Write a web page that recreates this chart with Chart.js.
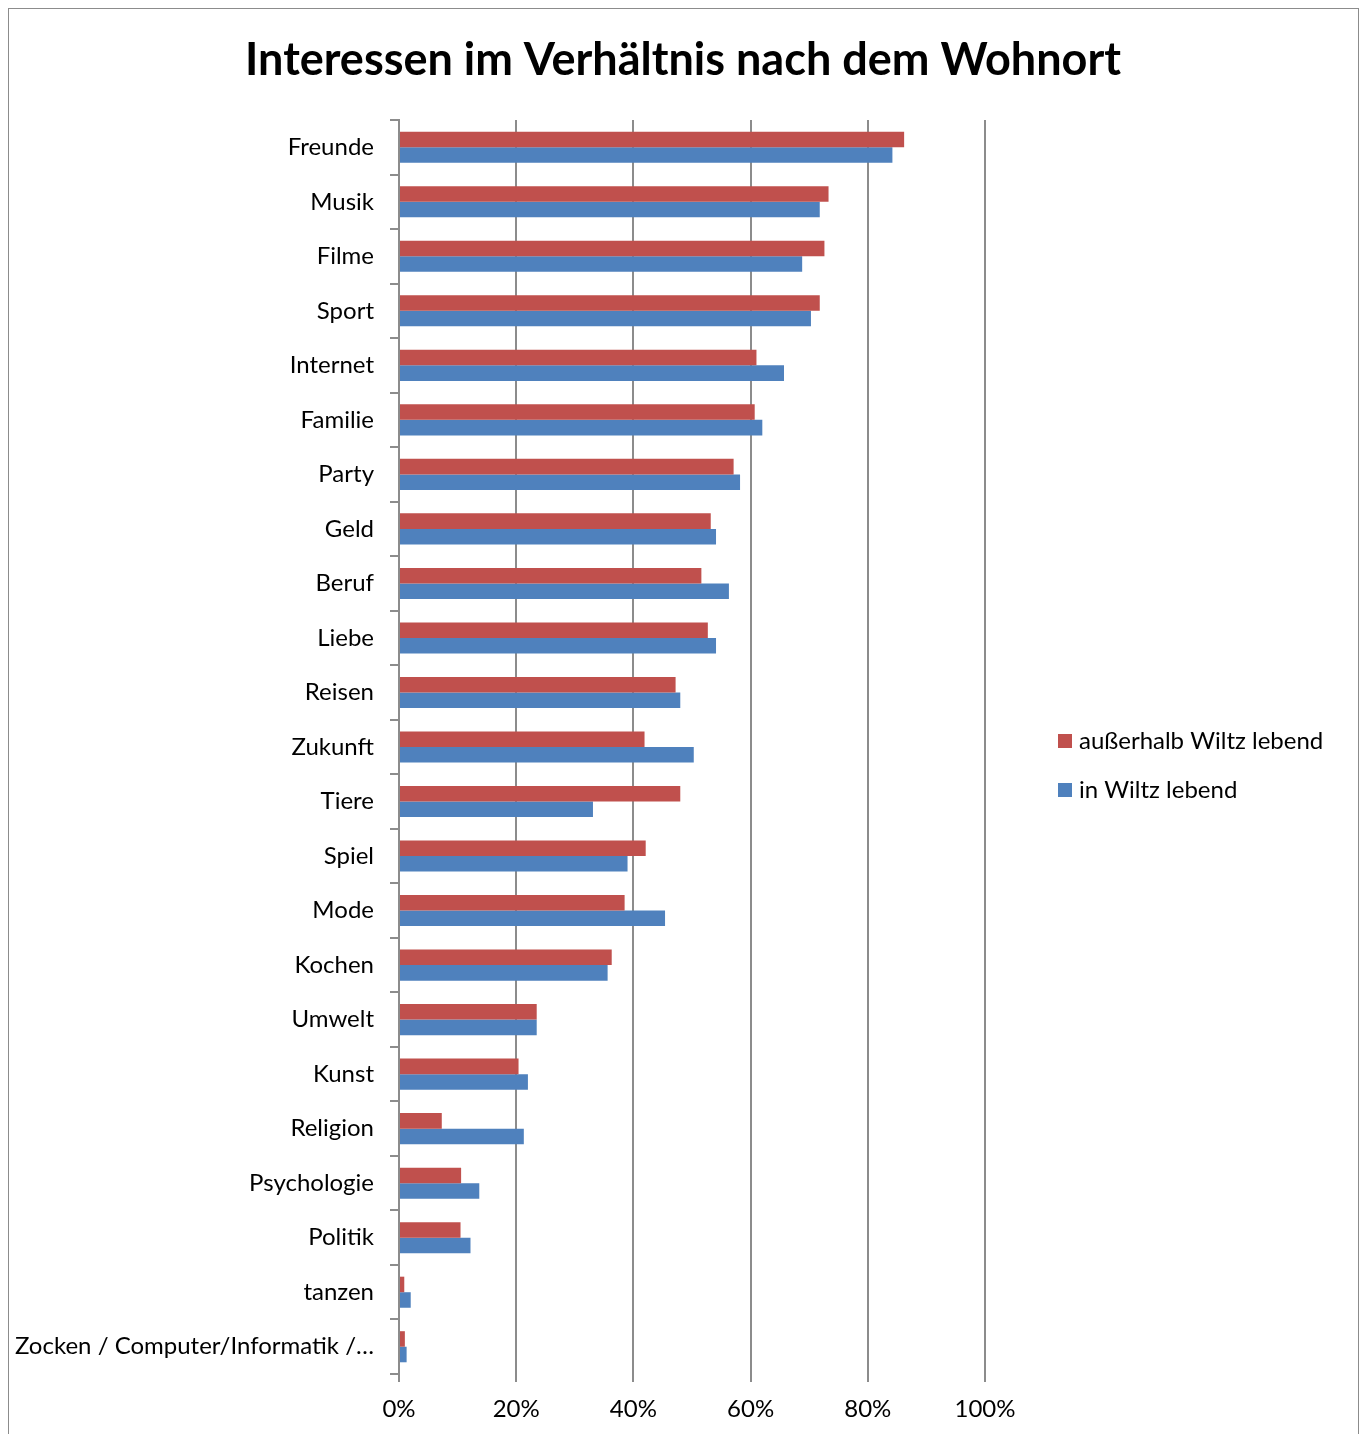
<!DOCTYPE html>
<html>
<head>
<meta charset="utf-8">
<script src="https://cdn.jsdelivr.net/npm/chart.js@4"></script>
<style>
  body { margin: 0; background: #fff; }
  #frame { position: absolute; left: 8px; top: 8px; width: 1349px; height: 1500px; border: 1px solid #8c8c8c; }
  #chart { position: absolute; left: 0; top: 0; }
</style>
</head>
<body>
<div id="frame"></div>
<canvas id="chart" width="1360" height="1434"></canvas>
<script>
// categories, top to bottom
const categories = ['Freunde', 'Musik', 'Filme', 'Sport', 'Internet', 'Familie', 'Party', 'Geld', 'Beruf',
  'Liebe', 'Reisen', 'Zukunft', 'Tiere', 'Spiel', 'Mode', 'Kochen', 'Umwelt', 'Kunst', 'Religion',
  'Psychologie', 'Politik', 'tanzen', 'Zocken / Computer/Informatik /…'];

// values in percent
const ausserhalb = [86.2, 73.3, 72.6, 71.8, 61.0, 60.7, 57.1, 53.2, 51.6, 52.7, 47.2, 41.9, 48.0,
  42.1, 38.5, 36.3, 23.5, 20.4, 7.3, 10.6, 10.5, 0.9, 1.0];
const inWiltz = [84.2, 71.8, 68.8, 70.3, 65.7, 62.0, 58.2, 54.1, 56.3, 54.1, 48.0, 50.3, 33.1,
  39.0, 45.4, 35.6, 23.5, 22.0, 21.3, 13.7, 12.2, 2.0, 1.3];

const xTicks = [0, 20, 40, 60, 80, 100];

const TITLE = 'Interessen im Verhältnis nach dem Wohnort';
const FONT = 'Lato, "Noto Sans", sans-serif';
const GRID = '#8c8c8c';

// title over the whole frame + legend at a fixed spot right of the plot
const decorations = {
  id: 'decorations',
  afterDraw(chart) {
    const ctx = chart.ctx;
    ctx.save();
    ctx.fillStyle = '#000';
    ctx.font = 'bold 45px ' + FONT;
    ctx.textAlign = 'center';
    ctx.textBaseline = 'middle';
    ctx.fillText(TITLE, 683, 60);

    const x = chart.chartArea.right + 73;
    ctx.font = '24px ' + FONT;
    ctx.textAlign = 'left';
    chart.data.datasets.forEach((ds, i) => {
      const y = 741 + i * 49;
      ctx.fillStyle = ds.backgroundColor;
      ctx.fillRect(x, y - 7, 14, 14);
      ctx.fillStyle = '#000';
      ctx.fillText(ds.label, x + 21, y);
    });
    ctx.restore();
  }
};

new Chart(document.getElementById('chart'), {
  type: 'bar',
  data: {
    labels: categories,
    datasets: [
      { label: 'außerhalb Wiltz lebend', data: ausserhalb, backgroundColor: '#C0504D',
        categoryPercentage: 0.57, barPercentage: 1.0 },
      { label: 'in Wiltz lebend', data: inWiltz, backgroundColor: '#4F81BD',
        categoryPercentage: 0.57, barPercentage: 1.0 }
    ]
  },
  options: {
    indexAxis: 'y',
    responsive: false,
    animation: false,
    layout: { padding: { left: 0, right: 375, top: 120, bottom: 0 } },
    plugins: {
      legend: { display: false },
      tooltip: { enabled: false },
      title: { display: false }
    },
    scales: {
      x: {
        min: 0,
        max: 100,
        afterBuildTicks: (scale) => { scale.ticks = xTicks.map(v => ({ value: v })); },
        afterFit: (scale) => { scale.height = 60; },
        ticks: {
          callback: (v) => v + '%',
          color: '#000',
          padding: 13,
          font: { family: FONT, size: 24 }
        },
        grid: { color: GRID, lineWidth: 2, tickLength: 8 },
        border: { display: false }
      },
      y: {
        afterFit: (scale) => { scale.width = 399; },
        ticks: {
          color: '#000',
          padding: 16,
          autoSkip: false,
          font: { family: FONT, size: 24 }
        },
        grid: { display: true, drawOnChartArea: false, offset: true, color: GRID, lineWidth: 2, tickLength: 9 },
        border: { display: true, color: GRID, width: 2 }
      }
    }
  },
  plugins: [decorations]
});
</script>
</body>
</html>
